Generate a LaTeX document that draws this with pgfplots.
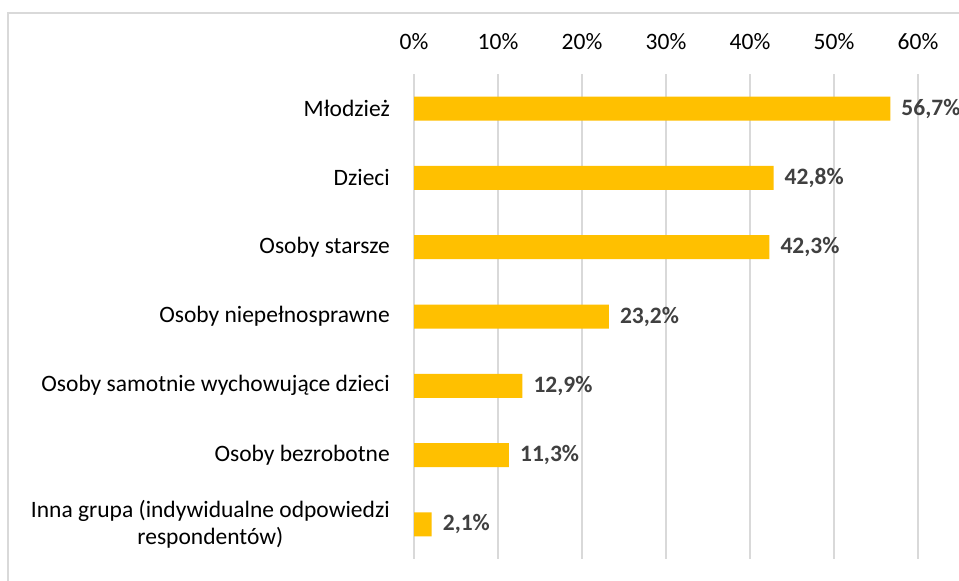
\documentclass[border=0pt]{standalone}
\usepackage{fontspec}
\setmainfont{Carlito}
\usepackage{pgfplots}
\pgfplotsset{compat=1.18}
\definecolor{barc}{HTML}{FFC000}
\definecolor{gridc}{HTML}{D9D9D9}
\definecolor{valc}{HTML}{404040}
\newcommand\lf{\fontsize{23.5bp}{27bp}\selectfont}
\begin{document}
\begin{tikzpicture}
\path[use as bounding box] (0,0) rectangle (959bp,581bp);
\fill[white] (0,0) rectangle (959bp,581bp);
\draw[gridc, line width=1.2bp] (8bp,-10bp) rectangle (975bp,568bp);
\begin{axis}[
  at={(414bp,22bp)}, anchor=south west,
  scale only axis, width=504bp, height=485bp,
  xbar, bar width=24bp,
  xmin=0, xmax=60, ymin=-0.5, ymax=6.5, y dir=reverse,
  xtick={0,10,...,60}, xticklabel pos=right,
  xmajorgrids, grid style={gridc, line width=1.5bp},
  axis line style={draw=none},
  major tick length=0pt,
  ytick={0,...,6},
  yticklabels={Młodzież, Dzieci, Osoby starsze, Osoby niepełnosprawne, Osoby samotnie wychowujące dzieci, Osoby bezrobotne, {Inna grupa (indywidualne odpowiedzi\\respondentów)}},
  yticklabel style={font=\lf, align=center, inner sep=0pt, xshift=-24bp},
  xticklabel={\pgfmathprintnumber[assume math mode=true]{\tick}\%},
  xticklabel style={font=\lf, inner sep=0pt, yshift=24bp},
  nodes near coords={\pgfmathprintnumber[assume math mode=true,fixed,fixed zerofill,precision=1,use comma]{\pgfplotspointmeta}\%},
  nodes near coords style={font=\lf\bfseries, color=valc, anchor=west, inner sep=0pt, xshift=11bp},
]
\addplot[fill=barc, draw=none] coordinates {(56.7,0) (42.8,1) (42.3,2) (23.2,3) (12.9,4) (11.3,5) (2.1,6)};
\end{axis}
\end{tikzpicture}
\end{document}
